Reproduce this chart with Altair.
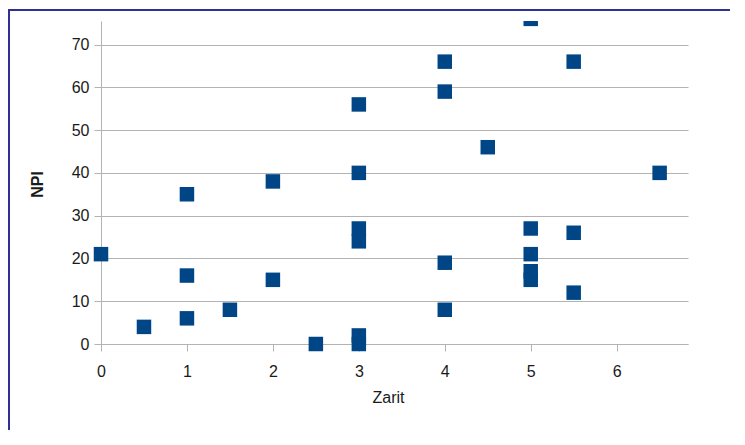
import altair as alt
import pandas as pd

# ---- data ----
zarit = [0, 0.5, 1, 1, 1, 1.5, 2, 2, 2.5, 3, 3, 3, 3, 3, 3,
         4, 4, 4, 4, 4.5, 5, 5, 5, 5, 5, 5.5, 5.5, 5.5, 6.5]
npi = [21, 4, 35, 16, 6, 8, 38, 15, 0, 56, 40, 27, 24, 2, 0,
       66, 59, 19, 8, 46, 76, 27, 21, 17, 15, 66, 26, 12, 40]
x_ticks = [0, 1, 2, 3, 4, 5, 6]
y_ticks = [0, 10, 20, 30, 40, 50, 60, 70]
x_domain = [0, 6.83]
y_domain = [0, 75.5]

MARK_COLOR = "#004586"
GRID_COLOR = "#b3b3b3"
FRAME_COLOR = "#2e3191"
FONT = "Liberation Sans"
TEXT_COLOR = "#1a1a1a"

W, H = 587, 323
PAD = {"left": 93, "top": 13, "right": 48, "bottom": 92}

df = pd.DataFrame({"Zarit": zarit, "NPI": npi})

x_enc = alt.X(
    "Zarit:Q",
    scale=alt.Scale(domain=x_domain, nice=False, zero=False),
    axis=alt.Axis(
        values=x_ticks, grid=False, title="Zarit", format="d",
        tickSize=7, labelPadding=12, labelFlush=False,
        titleX=287, titleY=58, titleBaseline="alphabetic", titleAlign="center",
    ),
)
y_enc = alt.Y(
    "NPI:Q",
    scale=alt.Scale(domain=y_domain, nice=False, zero=False),
    axis=alt.Axis(
        values=y_ticks, grid=True, title="NPI", format="d",
        tickSize=7, labelPadding=5, labelFlush=False,
        titleX=-59, titleY=163, titleBaseline="alphabetic", titleAlign="center",
        titleAngle=270, titleFontWeight="bold",
    ),
)

inside = (
    alt.Chart(df)
    .transform_filter(alt.datum.NPI <= y_domain[1])
    .mark_point(shape="square", filled=True, size=210, color=MARK_COLOR, opacity=1)
    .encode(x=x_enc, y=y_enc)
)
outside = (
    alt.Chart(df)
    .transform_filter(alt.datum.NPI > y_domain[1])
    .mark_point(shape="square", filled=True, size=210, color=MARK_COLOR, opacity=1, clip=True)
    .encode(x=x_enc, y=y_enc)
)

# frame: two thin filled bars (top and left edges of the outer border)
frame_src = pd.DataFrame({"f": [0]})
frame_top = (
    alt.Chart(frame_src)
    .mark_rect(color=FRAME_COLOR, strokeWidth=0)
    .encode(x=alt.value(-PAD["left"]), x2=alt.value(W + PAD["right"] - 6),
            y=alt.value(-12), y2=alt.value(-10))
)
frame_left = (
    alt.Chart(frame_src)
    .mark_rect(color=FRAME_COLOR, strokeWidth=0)
    .encode(x=alt.value(-PAD["left"]), x2=alt.value(-PAD["left"] + 2),
            y=alt.value(-12), y2=alt.value(H + PAD["bottom"] - 6))
)

chart = (
    alt.layer(frame_top, frame_left, inside, outside)
    .properties(
        width=W, height=H,
        autosize=alt.AutoSizeParams(type="none"),
        padding=PAD,
        background="white",
    )
    .configure_view(stroke=None)
    .configure_axis(
        domainColor=GRID_COLOR, domainWidth=1,
        tickColor=GRID_COLOR, tickWidth=1,
        gridColor=GRID_COLOR, gridWidth=1,
        labelFont=FONT, labelFontSize=16, labelColor=TEXT_COLOR,
        titleFont=FONT, titleFontSize=16, titleColor=TEXT_COLOR, titleFontWeight="normal",
    )
)

chart.save("out.html", embed_options={"renderer": "svg", "actions": False})
